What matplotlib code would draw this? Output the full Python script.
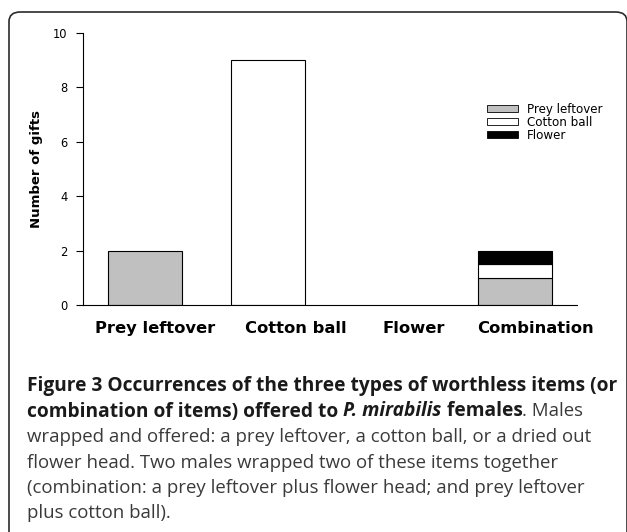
# Bar chart of nuptial gift types offered by P. mirabilis males, with figure caption

import matplotlib
matplotlib.use("Agg")
import matplotlib.pyplot as plt
from matplotlib.patches import FancyBboxPatch, Patch
import numpy as np

categories = ["Prey leftover", "Cotton ball", "Flower", "Combination"]
prey_leftover = [2, 0, 0, 1]
cotton_ball = [0, 9, 0, 0.5]
flower = [0, 0, 0, 0.5]
y_ticks = [0, 2, 4, 6, 8, 10]

caption_lines = [
    [("Figure 3 Occurrences of the three types of worthless items (or", "bold")],
    [("combination of items) offered to ", "bold"), ("P. mirabilis", "bolditalic"),
     (" females", "bold"), (". Males", "normal")],
    [("wrapped and offered: a prey leftover, a cotton ball, or a dried out", "normal")],
    [("flower head. Two males wrapped two of these items together", "normal")],
    [("(combination: a prey leftover plus flower head; and prey leftover", "normal")],
    [("plus cotton ball).", "normal")],
]

W, H = 627, 532
fig = plt.figure(figsize=(W / 100, H / 100), dpi=100)

# rounded frame around the figure panel (bottom runs off the image)
frame = FancyBboxPatch((9 / W, -0.05), (W - 9) / W, 1 - 12 / H + 0.05,
                       boxstyle="round,pad=0,rounding_size=0.018",
                       transform=fig.transFigure, facecolor="none",
                       edgecolor="#2b2b2b", linewidth=1.2, clip_on=False)
fig.patches.append(frame)

ax = fig.add_axes([83 / W, 1 - 305 / H, 494 / W, 272 / H])
x = np.arange(len(categories))
width = 0.6

prey = np.array(prey_leftover, dtype=float)
cotton = np.array(cotton_ball, dtype=float)
flow = np.array(flower, dtype=float)

m = prey > 0
ax.bar(x[m], prey[m], width, color="#c0c0c0", edgecolor="black", linewidth=0.8)
m = cotton > 0
ax.bar(x[m], cotton[m], width, bottom=prey[m], color="white", edgecolor="black", linewidth=0.8)
m = flow > 0
ax.bar(x[m], flow[m], width, bottom=(prey + cotton)[m], color="black", edgecolor="black", linewidth=0.8)

ax.set_xlim(-0.5, 3.5)
ax.set_ylim(0, 10)
ax.set_yticks(y_ticks)
ax.set_yticklabels([str(t) for t in y_ticks], fontsize=8.3, family="DejaVu Sans")
ax.tick_params(axis="y", length=5, width=0.8, pad=6)

# category labels sit a little right of the bar centres in the original
ax.set_xticks(x)
ax.set_xticklabels([])
ax.tick_params(axis="x", length=0)
label_shift = [0.085, 0.22, 0.18, 0.16]
for xi, lab, sh in zip(x, categories, label_shift):
    ax.text(xi + sh, -0.085, lab, transform=ax.get_xaxis_transform(),
            ha="center", va="center", fontsize=11.8, fontweight="bold",
            family="DejaVu Sans")

ax.set_ylabel("Number of gifts", fontsize=9.5, fontweight="bold", family="DejaVu Sans")
ax.yaxis.set_label_coords(-0.081, 0.5)
for s in ["top", "right"]:
    ax.spines[s].set_visible(False)
ax.spines["left"].set_linewidth(0.8)
ax.spines["bottom"].set_linewidth(0.8)

handles = [Patch(facecolor="#c0c0c0", edgecolor="black", linewidth=0.6, label="Prey leftover"),
           Patch(facecolor="white", edgecolor="black", linewidth=0.6, label="Cotton ball"),
           Patch(facecolor="black", edgecolor="black", linewidth=0.6, label="Flower")]
ax.legend(handles=handles, loc="upper left", bbox_to_anchor=(0.817, 0.743),
          frameon=False, prop={"family": "DejaVu Sans", "size": 8.6},
          handlelength=2.67, handleheight=0.5, handletextpad=0.7,
          labelspacing=0.0, borderpad=0, borderaxespad=0)

# caption, drawn run by run so bold / italic / regular can share a line
renderer = fig.canvas.get_renderer()
styles = {
    "bold": dict(fontweight="bold", fontstyle="normal", color="#1a1a1a", fontsize=13.75),
    "bolditalic": dict(fontweight="bold", fontstyle="italic", color="#1a1a1a", fontsize=13.75),
    "normal": dict(fontweight="normal", fontstyle="normal", color="#3a3a3a", fontsize=13.4),
}
x0 = 27
y0 = 386
line_gap = 25.5
for i, line in enumerate(caption_lines):
    xp = x0
    yp = y0 + i * line_gap
    for txt, st in line:
        t = fig.text(xp / W, 1 - yp / H, txt, family="Open Sans",
                     va="center", ha="left", **styles[st])
        bb = t.get_window_extent(renderer=renderer)
        xp += bb.width

fig.savefig("out.png", dpi=100)
